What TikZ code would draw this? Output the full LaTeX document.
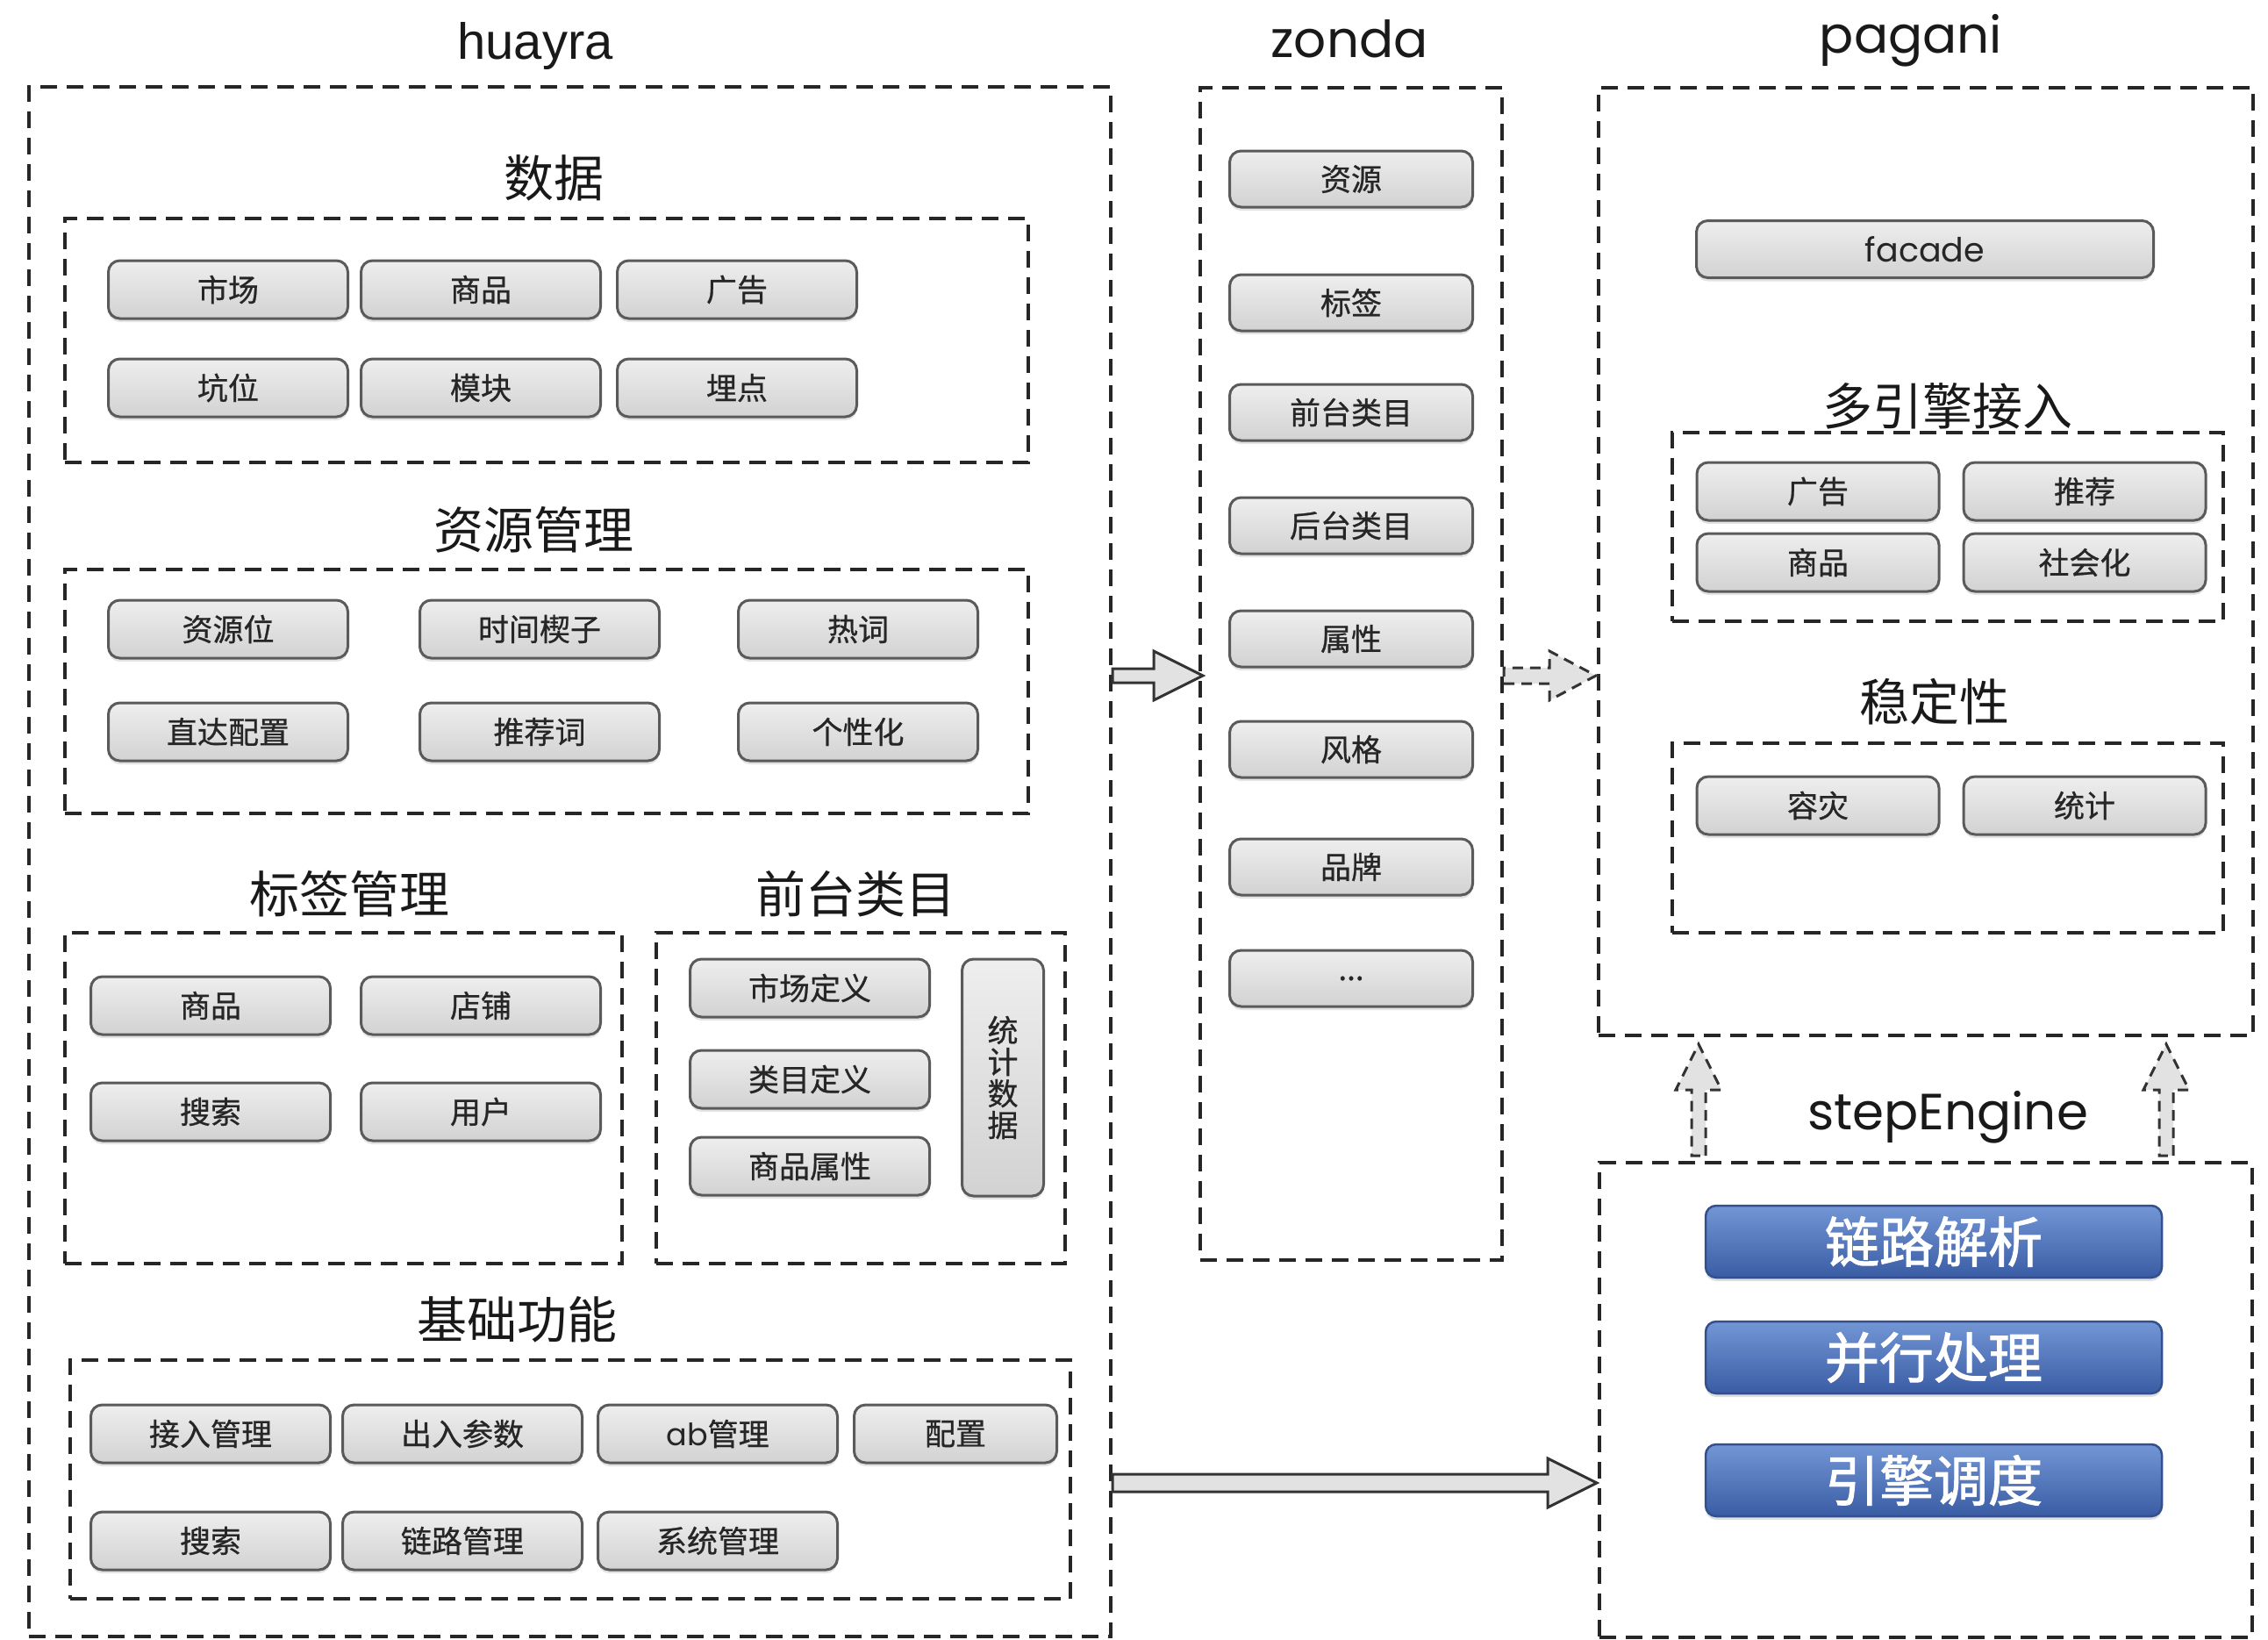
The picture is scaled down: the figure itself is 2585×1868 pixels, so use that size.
\documentclass[tikz,border=0pt]{standalone}
\usepackage{fontspec}
\newfontfamily\cjk{Noto Sans CJK SC}
\newfontfamily\cjkm[FakeBold=0.7]{Noto Sans CJK SC}
\newfontfamily\cjkb[FakeBold=1.6]{Noto Sans CJK SC}
\newfontfamily\pop{Poppins}
\newfontfamily\lib{Liberation Sans}
\usetikzlibrary{shadows}
\definecolor{btntop}{HTML}{EEEEEE}
\definecolor{btnbot}{HTML}{D2D2D2}
\definecolor{btnborder}{HTML}{5A5A5A}
\definecolor{btntext}{HTML}{262626}
\definecolor{bluetop}{HTML}{7396D6}
\definecolor{bluebot}{HTML}{3A5CA4}
\definecolor{bluebord}{HTML}{34508C}
\definecolor{arrowfill}{HTML}{E2E2E2}
% horizontal block arrow: start, length, shaft half, head half, head length, style
\newcommand\hblockarrow[6]{%
  \draw[#6] (#1) ++(0,#3) -- ++({#2-#5},0) -- ++(0,{#4-#3}) -- ++(#5,{-#4})
    -- ++({-#5},{-#4}) -- ++(0,{#4-#3}) -- ++({-(#2-#5)},0) -- cycle;}
% upward block arrow: start (bottom), length, shaft half, head half, head length, style
\newcommand\vblockarrow[6]{%
  \draw[#6] (#1) ++(#3,0) -- ++(0,{-(#2-#5)}) -- ++({#4-#3},0) -- ++({-#4},{-#5})
    -- ++({-#4},#5) -- ++({#4-#3},0) -- ++(0,{#2-#5}) -- cycle;}
\begin{document}
\begin{tikzpicture}[x=1pt,y=-1pt,
  grp/.style={draw=black!85, line width=4pt, dash pattern=on 19pt off 11pt, inner sep=0pt},
  btn/.style={draw=btnborder, line width=3pt, rounded corners=13pt, top color=btntop,
    bottom color=btnbot, minimum width=273pt, minimum height=66pt, inner sep=0pt,
    text=btntext, font=\cjkm\fontsize{35}{40}\selectfont,
    drop shadow={shadow xshift=0pt, shadow yshift=-4pt, opacity=0.22}},
  zbtn/.style={btn, minimum width=277pt, minimum height=64pt},
  sect/.style={font=\cjk\fontsize{57}{60}\selectfont, text=black!90, inner sep=0pt},
  ttl/.style={font=\pop\fontsize{58}{60}\selectfont, inner sep=0pt, anchor=base, text=black!90},
  bluebtn/.style={draw=bluebord, line width=2.5pt, rounded corners=12pt, top color=bluetop,
    bottom color=bluebot, minimum width=520pt, minimum height=82pt, inner sep=0pt,
    text=white, font=\cjkb\fontsize{62}{64}\selectfont,
    drop shadow={shadow xshift=0pt, shadow yshift=-4pt, opacity=0.25}},
  barrow/.style={draw=black!80, line width=3pt, fill=arrowfill, line join=miter},
  darrow/.style={barrow, dash pattern=on 12pt off 8pt}
]
\useasboundingbox (0,0) rectangle (2585,1868);

% ---------- outer boxes ----------
\node[grp, minimum width=1233pt, minimum height=1766pt] (hua) at (649.5,982) {};
\node[grp, minimum width=344pt, minimum height=1336pt] (zon) at (1540,768) {};
\node[grp, minimum width=746pt, minimum height=1080pt] (pag) at (2195,640) {};
\node[grp, minimum width=744pt, minimum height=541pt] (stp) at (2195,1595.5) {};

% ---------- titles ----------
\node[ttl, font=\lib\fontsize{58}{60}\selectfont] (thua) at (610,67) {huayra};
\node[ttl] (tzon) at (1538,66) {zonda};
\node[ttl] (tpag) at (2178,61) {pagani};
\node[ttl] (tstp) at (2220,1287) {stepEngine};

% ---------- huayra: 数据 ----------
\node[sect] (sdata) at (631,203) {数据};
\node[grp, minimum width=1098pt, minimum height=278pt] (gdata) at (623,388) {};
\node[btn] (d1) at (260,330) {市场};
\node[btn] (d2) at (548,330) {商品};
\node[btn] (d3) at (840,330) {广告};
\node[btn] (d4) at (260,442) {坑位};
\node[btn] (d5) at (548,442) {模块};
\node[btn] (d6) at (840,442) {埋点};

% ---------- 资源管理 ----------
\node[sect] (sres) at (608,604) {资源管理};
\node[grp, minimum width=1098pt, minimum height=278pt] (gres) at (623,788) {};
\node[btn] (r1) at (260,717) {资源位};
\node[btn] (r2) at (615,717) {时间楔子};
\node[btn] (r3) at (978,717) {热词};
\node[btn] (r4) at (260,834) {直达配置};
\node[btn] (r5) at (615,834) {推荐词};
\node[btn] (r6) at (978,834) {个性化};

% ---------- 标签管理 ----------
\node[sect] (stag) at (398,1019) {标签管理};
\node[grp, minimum width=635pt, minimum height=377pt] (gtag) at (391.5,1251.5) {};
\node[btn] (t1) at (240,1146) {商品};
\node[btn] (t2) at (548,1146) {店铺};
\node[btn] (t3) at (240,1267) {搜索};
\node[btn] (t4) at (548,1267) {用户};

% ---------- 前台类目 ----------
\node[sect] (scat) at (975,1019) {前台类目};
\node[grp, minimum width=466pt, minimum height=377pt] (gcat) at (981,1251.5) {};
\node[btn] (c1) at (923,1126) {市场定义};
\node[btn] (c2) at (923,1230) {类目定义};
\node[btn] (c3) at (923,1329) {商品属性};
\node[btn, minimum width=93pt, minimum height=270pt, align=center,
  font=\cjkm\fontsize{35}{36}\selectfont] (c4) at (1143,1228) {统\\计\\数\\据};

% ---------- 基础功能 ----------
\node[sect] (sbase) at (589,1504) {基础功能};
\node[grp, minimum width=1140pt, minimum height=272pt] (gbase) at (650,1686) {};
\node[btn] (b1) at (240,1634) {接入管理};
\node[btn] (b2) at (527,1634) {出入参数};
\node[btn] (b3) at (818,1634) {{\pop ab}管理};
\node[btn, minimum width=231pt] (b4) at (1089,1634) {配置};
\node[btn] (b5) at (240,1756) {搜索};
\node[btn] (b6) at (527,1756) {链路管理};
\node[btn] (b7) at (818,1756) {系统管理};

% ---------- zonda ----------
\node[zbtn] (z1) at (1540,204) {资源};
\node[zbtn] (z2) at (1540,345) {标签};
\node[zbtn] (z3) at (1540,470) {前台类目};
\node[zbtn] (z4) at (1540,599) {后台类目};
\node[zbtn] (z5) at (1540,728) {属性};
\node[zbtn] (z6) at (1540,854) {风格};
\node[zbtn] (z7) at (1540,988) {品牌};
\node[zbtn] (z8) at (1540,1115) {...};

% ---------- pagani ----------
\node[btn, minimum width=521pt, minimum height=65pt, font=\pop\fontsize{38}{40}\selectfont] (facade) at (2194,284) {facade};
\node[sect] (seng) at (2220,463) {多引擎接入};
\node[grp, minimum width=628pt, minimum height=215pt] (geng) at (2220,600.5) {};
\node[btn, minimum width=276pt] (e1) at (2072,560) {广告};
\node[btn, minimum width=276pt] (e2) at (2376,560) {推荐};
\node[btn, minimum width=276pt] (e3) at (2072,641) {商品};
\node[btn, minimum width=276pt] (e4) at (2376,641) {社会化};
\node[sect] (sstab) at (2205,800) {稳定性};
\node[grp, minimum width=628pt, minimum height=216pt] (gstab) at (2220,955) {};
\node[btn, minimum width=276pt] (s1) at (2072,918) {容灾};
\node[btn, minimum width=276pt] (s2) at (2376,918) {统计};

% ---------- stepEngine ----------
\node[bluebtn] (p1) at (2204,1415) {链路解析};
\node[bluebtn] (p2) at (2204,1547) {并行处理};
\node[bluebtn] (p3) at (2204,1687) {引擎调度};

% ---------- arrows ----------
\coordinate (a1) at (hua.east |- 0,770);
\coordinate (a2) at (zon.east |- 0,770);
\coordinate (a3) at (hua.east |- 0,1690);
\coordinate (u1) at (1936,1317);
\coordinate (u2) at (2469,1317);
\hblockarrow{a1}{103}{8}{28}{56}{barrow}
\hblockarrow{a2}{105}{9}{28}{53}{darrow}
\hblockarrow{a3}{552}{10}{28}{56}{barrow}
\vblockarrow{u1}{127}{8}{26}{52}{darrow}
\vblockarrow{u2}{127}{8}{26}{52}{darrow}
\end{tikzpicture}
\end{document}
